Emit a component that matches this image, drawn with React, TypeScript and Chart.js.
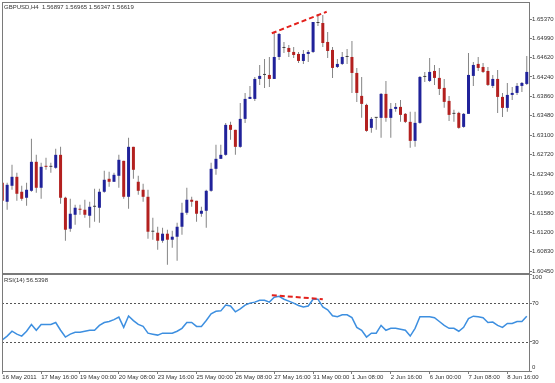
import React, { useEffect, useRef } from 'react';
import { Chart, registerables } from 'chart.js';

Chart.register(...registerables);

const MAIN_TITLE = 'GBPUSD,H4  1.56897 1.56965 1.56347 1.56619';
const RSI_TITLE = 'RSI(14) 56.5398';

const OPEN = [
  1.62172, 1.61802, 1.62114, 1.62289, 1.61997, 1.61880, 1.62016, 1.62582, 1.62075, 1.62504,
  1.62484, 1.62465, 1.62718, 1.61880, 1.61275, 1.61548, 1.61665, 1.61646, 1.61529, 1.61704,
  1.61685, 1.61997, 1.62250, 1.62192, 1.62309, 1.62601, 1.61899, 1.62874, 1.62192, 1.62036,
  1.61899, 1.61217, 1.61197, 1.61041, 1.61178, 1.61061, 1.61119, 1.61314, 1.61587, 1.61841,
  1.61821, 1.61568, 1.61626, 1.62016, 1.62445, 1.62640, 1.62718, 1.63303, 1.63206, 1.62874,
  1.63420, 1.63810, 1.63810, 1.64200, 1.64278, 1.64278, 1.64200, 1.64629, 1.64805, 1.64805,
  1.64727, 1.64688, 1.64551, 1.64688, 1.64727, 1.65292, 1.65292, 1.64922, 1.64766, 1.64434,
  1.64493, 1.64629, 1.64629, 1.64317, 1.63869, 1.63693, 1.63245, 1.63440, 1.63440, 1.63908,
  1.63440, 1.63615, 1.63654, 1.63518, 1.63362, 1.62991, 1.63342, 1.64239, 1.64161, 1.64356,
  1.64220, 1.64025, 1.63771, 1.63518, 1.63537, 1.63264, 1.63518, 1.64259, 1.64493, 1.64434,
  1.64356, 1.64064, 1.64200, 1.63849, 1.63635, 1.63888, 1.63927, 1.64064, 1.64103,
];

const HIGH = [
  1.62211, 1.62172, 1.62523, 1.62367, 1.62114, 1.62172, 1.63030, 1.62718, 1.62562, 1.62660,
  1.62562, 1.62835, 1.62874, 1.61899, 1.61860, 1.61743, 1.61743, 1.61841, 1.61802, 1.62055,
  1.62055, 1.62406, 1.62387, 1.62367, 1.62718, 1.62601, 1.63050, 1.62874, 1.62309, 1.62153,
  1.62036, 1.61490, 1.61314, 1.61295, 1.61256, 1.61236, 1.61392, 1.61782, 1.62075, 1.61899,
  1.61821, 1.61704, 1.62036, 1.62562, 1.62913, 1.62913, 1.63342, 1.63362, 1.63206, 1.63732,
  1.63927, 1.64064, 1.64239, 1.64473, 1.64590, 1.64629, 1.65097, 1.65097, 1.64922, 1.64863,
  1.64824, 1.64727, 1.64766, 1.64766, 1.65312, 1.65468, 1.65448, 1.65117, 1.64824, 1.64590,
  1.64727, 1.64785, 1.64941, 1.64415, 1.64239, 1.63713, 1.63459, 1.63459, 1.63927, 1.64161,
  1.63732, 1.63732, 1.63791, 1.63537, 1.63557, 1.63557, 1.64259, 1.64337, 1.64610, 1.64473,
  1.64415, 1.64200, 1.63869, 1.63596, 1.63557, 1.63537, 1.64707, 1.64532, 1.64629, 1.64512,
  1.64434, 1.64278, 1.64376, 1.63927, 1.64122, 1.64044, 1.64122, 1.64142, 1.64649,
];

const LOW = [
  1.61646, 1.61646, 1.62036, 1.61821, 1.61821, 1.61724, 1.61997, 1.61977, 1.61860, 1.62426,
  1.62367, 1.62445, 1.61763, 1.61041, 1.61217, 1.61353, 1.61548, 1.61490, 1.61295, 1.61412,
  1.61392, 1.61977, 1.62094, 1.62192, 1.62075, 1.61860, 1.61665, 1.62250, 1.61938, 1.61802,
  1.61080, 1.61061, 1.60866, 1.61002, 1.60574, 1.60905, 1.60652, 1.61158, 1.61548, 1.61704,
  1.61412, 1.61509, 1.61295, 1.61997, 1.62328, 1.62640, 1.62699, 1.63011, 1.62718, 1.62855,
  1.63342, 1.63810, 1.63771, 1.64083, 1.64025, 1.64044, 1.64200, 1.64571, 1.64707, 1.64629,
  1.64610, 1.64512, 1.64493, 1.64532, 1.64707, 1.65234, 1.64824, 1.64610, 1.64220, 1.64415,
  1.64473, 1.64493, 1.63927, 1.63752, 1.63440, 1.63167, 1.63147, 1.63206, 1.63050, 1.63362,
  1.63050, 1.63557, 1.63362, 1.63342, 1.62855, 1.62874, 1.63323, 1.64142, 1.64142, 1.64083,
  1.63888, 1.63635, 1.63381, 1.63362, 1.63225, 1.63245, 1.63518, 1.64064, 1.64356, 1.64317,
  1.64064, 1.64025, 1.63537, 1.63459, 1.63557, 1.63791, 1.63888, 1.63947, 1.64083,
];

const CLOSE = [
  1.61821, 1.62133, 1.62289, 1.61958, 1.61860, 1.62036, 1.62582, 1.62075, 1.62484, 1.62484,
  1.62484, 1.62718, 1.61880, 1.61256, 1.61568, 1.61685, 1.61646, 1.61548, 1.61704, 1.61704,
  1.61997, 1.62231, 1.62192, 1.62328, 1.62621, 1.61899, 1.62874, 1.62426, 1.62016, 1.61899,
  1.61217, 1.61217, 1.61041, 1.61178, 1.61061, 1.61119, 1.61314, 1.61587, 1.61841, 1.61802,
  1.61568, 1.61626, 1.62016, 1.62445, 1.62640, 1.62718, 1.63303, 1.63206, 1.62874, 1.63420,
  1.63810, 1.63849, 1.64200, 1.64259, 1.64278, 1.64200, 1.64629, 1.65078, 1.64805, 1.64727,
  1.64668, 1.64551, 1.64688, 1.64727, 1.65312, 1.65292, 1.64902, 1.64746, 1.64415, 1.64493,
  1.64629, 1.64629, 1.64317, 1.63927, 1.63713, 1.63186, 1.63420, 1.63440, 1.63908, 1.63440,
  1.63615, 1.63654, 1.63498, 1.63362, 1.62991, 1.63342, 1.64239, 1.64239, 1.64337, 1.64220,
  1.64005, 1.63752, 1.63498, 1.63518, 1.63245, 1.63518, 1.64278, 1.64473, 1.64415, 1.64337,
  1.64083, 1.64200, 1.63849, 1.63635, 1.63888, 1.63927, 1.64064, 1.64122, 1.64337,
];

const RSI = [
  32, 36, 41, 38, 36, 41, 48, 42, 48, 48,
  48, 50, 42, 35, 38, 40, 40, 41, 42, 42,
  47, 50, 51, 53, 55.6, 45, 56.7, 52, 48, 46,
  39, 38, 37, 39, 39, 39, 41, 44, 50, 50,
  46, 46, 52, 59, 61.5, 62, 68, 67, 61, 64,
  68, 70, 71, 73, 73, 71, 76, 77, 74, 72,
  70, 67.5, 66, 67, 74, 74, 66, 63, 57, 56,
  58, 58, 55, 45, 42, 35, 39, 39, 47, 42,
  44, 44, 43, 42, 36, 44, 56, 56, 56, 55,
  51, 47, 44, 44, 41, 45, 54, 56.5, 56, 55,
  50, 50.5, 47, 45, 49, 49, 51, 51, 56.5,
];

const X_TICK_INDEX = [0, 8, 16, 24, 32, 40, 48, 56, 64, 72, 80, 88, 96, 104];
const X_TICK_LABELS = [
  '16 May 2011', '17 May 16:00', '19 May 00:00', '20 May 08:00', '23 May 16:00',
  '25 May 00:00', '26 May 08:00', '27 May 16:00', '31 May 00:00', '1 Jun 08:00',
  '2 Jun 16:00', '6 Jun 00:00', '7 Jun 08:00', '8 Jun 16:00',
];
const PRICE_TICKS = [
  1.6045, 1.6083, 1.612, 1.6158, 1.6196, 1.6234, 1.6272,
  1.631, 1.6348, 1.6386, 1.6424, 1.6462, 1.6499, 1.6537,
];
const RSI_TICKS = [0, 30, 70, 100];
const RSI_LEVELS = [70, 30];
const PRICE_TREND = [{ x: 55.5, y: 1.65091 }, { x: 66.8, y: 1.65512 }];
const RSI_TREND = [{ x: 55.5, y: 78.2 }, { x: 66.0, y: 74.0 }];
const X_MIN = -0.06;
const X_MAX = 108.46;
const PRICE_MIN = 1.60411;
const PRICE_MAX = 1.65702;

const FONT_FAMILY = 'Liberation Sans';
const TEXT = '#333333';
const FRAME = '#7a7a7a';
const BULL = '#20229a';
const BEAR = '#b3201f';
const DOJI = '#404040';
const WICK = '#858585';
const RED_LINE = '#e3211c';
const RSI_COLOR = '#3d8fe0';

const framePlugin = {
  id: 'frame',
  afterDraw(chart: any, _args: any, opts: any) {
    const { ctx, chartArea: a } = chart;
    ctx.save();
    ctx.strokeStyle = opts.color;
    ctx.lineWidth = 1;
    ctx.strokeRect(a.left + 0.5, a.top + 0.5, a.right - a.left, a.bottom - a.top);
    ctx.fillStyle = opts.textColor;
    ctx.font = '6px "' + FONT_FAMILY + '"';
    ctx.textBaseline = 'middle';
    ctx.textAlign = 'left';
    ctx.fillText(opts.text, a.left + 2, a.top + opts.textDy);
    ctx.restore();
  },
};

const levelsPlugin = {
  id: 'levels',
  beforeDatasetsDraw(chart: any, _args: any, opts: any) {
    if (!opts || !opts.values) return;
    const { ctx, chartArea: a, scales } = chart;
    ctx.save();
    ctx.strokeStyle = opts.color;
    ctx.lineWidth = 1;
    ctx.setLineDash([2, 2]);
    for (const v of opts.values) {
      const y = Math.round(scales.y.getPixelForValue(v)) + 0.5;
      ctx.beginPath();
      ctx.moveTo(a.left, y);
      ctx.lineTo(a.right, y);
      ctx.stroke();
    }
    ctx.restore();
  },
};

const fitRight = (scale: any) => {
  scale.width = 26;
  scale.paddingTop = 0;
  scale.paddingBottom = 0;
};
const fitBottom = (scale: any) => {
  scale.height = 12;
  scale.paddingLeft = 0;
  scale.paddingRight = 0;
};

export default function App() {
  const mainRef = useRef<HTMLCanvasElement>(null);
  const rsiRef = useRef<HTMLCanvasElement>(null);

  useEffect(() => {
    const wickData = OPEN.map((_, i) => ({ x: i, y: [LOW[i], HIGH[i]] }));
    const bodyData = OPEN.map((o, i) => ({ x: i, y: [o, CLOSE[i]] }));
    const bodyColors = OPEN.map((o, i) => (CLOSE[i] > o ? BULL : CLOSE[i] < o ? BEAR : DOJI));
    const rsiData = RSI.map((v, i) => ({ x: i, y: v }));

    const main = new Chart(mainRef.current as HTMLCanvasElement, {
      type: 'bar',
      data: {
        datasets: [
          {
            type: 'line',
            data: PRICE_TREND,
            borderColor: RED_LINE,
            borderWidth: 2,
            borderDash: [5, 3],
            pointRadius: 0,
            order: 0,
          } as any,
          {
            data: bodyData,
            backgroundColor: bodyColors,
            barThickness: 3,
            minBarLength: 1,
            grouped: false,
            borderWidth: 0,
            inflateAmount: 0,
            order: 1,
          } as any,
          {
            data: wickData,
            backgroundColor: WICK,
            barThickness: 1,
            grouped: false,
            borderWidth: 0,
            inflateAmount: 0,
            order: 2,
          } as any,
        ],
      },
      options: {
        animation: false,
        responsive: false,
        events: [],
        layout: { padding: { left: 2, top: 2, right: 0, bottom: 2 } },
        plugins: {
          legend: { display: false },
          tooltip: { enabled: false },
          frame: { color: FRAME, textColor: TEXT, text: MAIN_TITLE, textDy: 5 },
        } as any,
        scales: {
          x: {
            type: 'linear',
            display: false,
            min: X_MIN,
            max: X_MAX,
            offset: false,
          },
          y: {
            type: 'linear',
            position: 'right',
            min: PRICE_MIN,
            max: PRICE_MAX,
            afterFit: fitRight,
            afterBuildTicks: (s: any) => {
              s.ticks = PRICE_TICKS.map((v) => ({ value: v }));
            },
            grid: { drawOnChartArea: false, drawTicks: true, tickLength: 3, tickColor: FRAME, color: FRAME },
            border: { display: false },
            ticks: {
              autoSkip: false,
              padding: 0,
              color: TEXT,
              font: { family: FONT_FAMILY, size: 6 },
              callback: (v: any) => Number(v).toFixed(5),
            },
          },
        },
      } as any,
      plugins: [framePlugin],
    });

    const rsi = new Chart(rsiRef.current as HTMLCanvasElement, {
      type: 'line',
      data: {
        datasets: [
          {
            data: RSI_TREND,
            borderColor: RED_LINE,
            borderWidth: 2,
            borderDash: [5, 3],
            pointRadius: 0,
            order: 0,
          },
          {
            data: rsiData,
            borderColor: RSI_COLOR,
            borderWidth: 1.5,
            pointRadius: 0,
            tension: 0,
            order: 1,
          },
        ],
      },
      options: {
        animation: false,
        responsive: false,
        events: [],
        layout: { padding: { left: 2, top: 2, right: 0, bottom: 0 } },
        plugins: {
          legend: { display: false },
          tooltip: { enabled: false },
          frame: { color: FRAME, textColor: TEXT, text: RSI_TITLE, textDy: 6 },
          levels: { color: '#555555', values: RSI_LEVELS },
        } as any,
        scales: {
          x: {
            type: 'linear',
            min: X_MIN,
            max: X_MAX,
            offset: false,
            afterFit: fitBottom,
            afterBuildTicks: (s: any) => {
              s.ticks = X_TICK_INDEX.map((v) => ({ value: v }));
            },
            grid: { drawOnChartArea: false, drawTicks: true, tickLength: 3, tickColor: FRAME, color: FRAME },
            border: { display: false },
            ticks: {
              autoSkip: false,
              maxRotation: 0,
              minRotation: 0,
              align: 'start',
              padding: 0,
              color: TEXT,
              font: { family: FONT_FAMILY, size: 6 },
              callback: (_v: any, i: number) => X_TICK_LABELS[i],
            },
          },
          y: {
            type: 'linear',
            position: 'right',
            min: 0,
            max: 100,
            afterFit: fitRight,
            afterBuildTicks: (s: any) => {
              s.ticks = RSI_TICKS.map((v) => ({ value: v }));
            },
            grid: { drawOnChartArea: false, drawTicks: true, tickLength: 3, tickColor: FRAME, color: FRAME },
            border: { display: false },
            ticks: {
              autoSkip: false,
              padding: 0,
              color: TEXT,
              font: { family: FONT_FAMILY, size: 6 },
              callback: (v: any, i: number, arr: any[]) =>
                i === arr.length - 1 ? ['', String(v)] : i === 0 ? [String(v), ''] : String(v),
            },
          },
        },
      } as any,
      plugins: [framePlugin, levelsPlugin],
    });

    return () => {
      main.destroy();
      rsi.destroy();
    };
  }, []);

  return (
    <div style={{ position: 'fixed', left: 0, top: 0, width: 555, height: 383, background: '#ffffff', overflow: 'hidden' }}>
      <canvas ref={mainRef} width={555} height={275} style={{ position: 'absolute', left: 0, top: 0, width: 555, height: 275 }} />
      <canvas ref={rsiRef} width={555} height={111} style={{ position: 'absolute', left: 0, top: 272, width: 555, height: 111 }} />
    </div>
  );
}
